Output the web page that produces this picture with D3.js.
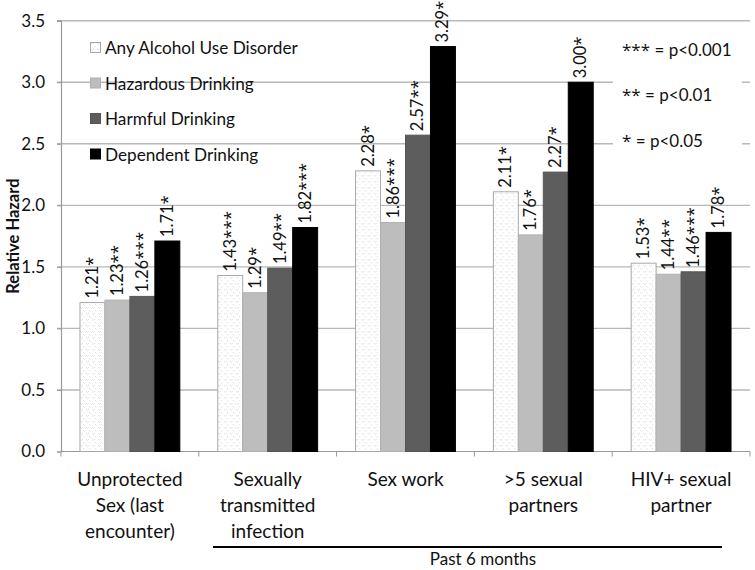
<!DOCTYPE html>
<html><head><meta charset="utf-8">
<script src="https://cdn.jsdelivr.net/npm/d3@7"></script>
<style>body{margin:0;background:#fff;} svg{display:block;font-family:Lato,"Open Sans",sans-serif;} .st{font-family:"Open Sans",sans-serif;}</style>
</head><body><svg id="c" width="755" height="570"></svg>
<script>
const categories = ["Unprotected Sex (last encounter)", "Sexually transmitted infection", "Sex work", ">5 sexual partners", "HIV+ sexual partner"];
const categoryLines = [["Unprotected","Sex (last","encounter)"],["Sexually","transmitted","infection"],["Sex work"],[">5 sexual","partners"],["HIV+ sexual","partner"]];
const series = ["Any Alcohol Use Disorder","Hazardous Drinking","Harmful Drinking","Dependent Drinking"];
const anyAUD     = [1.21, 1.43, 2.28, 2.11, 1.53];
const hazardous  = [1.23, 1.29, 1.86, 1.76, 1.44];
const harmful    = [1.26, 1.49, 2.57, 2.27, 1.46];
const dependent  = [1.71, 1.82, 3.29, 3.00, 1.78];
const starsAny   = ["*", "***", "*", "*", "*"];
const starsHaz   = ["**", "*", "***", "*", "**"];
const starsHarm  = ["***", "**", "**", "*", "***"];
const starsDep   = ["*", "***", "*", "*", "*"];
const yTicks = [0, 0.5, 1.0, 1.5, 2.0, 2.5, 3.0, 3.5];
const pStars = ["***", "**", "*"];
const pNotes = [" = p<0.001", " = p<0.01", " = p<0.05"];

const values = [anyAUD, hazardous, harmful, dependent];
const stars = [starsAny, starsHaz, starsHarm, starsDep];
const fills = ["url(#dots)", "#bdbdbd", "#5d5d5d", "#000"];
const strokes = ["#a8a8a8", "#b0b0b0", "#555", "#000"];

const svg = d3.select("#c");
const defs = svg.append("defs");
const pat = defs.append("pattern").attr("id","dots").attr("patternUnits","userSpaceOnUse").attr("width",6).attr("height",6);
pat.append("rect").attr("width",6).attr("height",6).attr("fill","#fff");
pat.append("path").attr("d","M1,1 l1.5,1.5 l1.5,-1.5 M4,4 l1.5,1.5").attr("stroke","#d8d8d8").attr("stroke-width",0.8).attr("fill","none");

const mLeft = 61, mRight = 750, mTop = 20.7, mBottom = 451.5;
const y = d3.scaleLinear().domain([0, 3.5]).range([mBottom, mTop]);
const x0 = d3.scaleBand().domain(categories).range([mLeft, mRight]).padding(0);
const x1 = d3.scaleBand().domain(series).range([0, x0.bandwidth()]).paddingInner(0).paddingOuter(0.76);

// gridlines
svg.append("g").selectAll("line").data(yTicks.filter(d => d > 0)).join("line")
  .attr("x1", mLeft - 4).attr("x2", mRight).attr("y1", d => y(d)).attr("y2", d => y(d))
  .attr("stroke", "#b8b8b8").attr("stroke-width", 1.4);

// y axis
const yAxis = d3.axisLeft(y).tickValues(yTicks).tickFormat(d3.format(".1f")).tickSize(4).tickPadding(12);
const ya = svg.append("g").attr("transform", `translate(${mLeft},0)`).call(yAxis);
ya.select(".domain").attr("stroke", "#999").attr("stroke-width", 1.2);
ya.selectAll(".tick line").attr("stroke", "#999");
ya.selectAll("text").attr("font-size", 17).attr("fill", "#111").attr("font-family", "Lato, sans-serif");

// x axis
const xa = svg.append("g").attr("transform", `translate(0,${mBottom})`);
xa.append("line").attr("x1", mLeft).attr("x2", mRight).attr("stroke", "#999").attr("stroke-width", 1.2);
const bounds = categories.map((c, i) => x0(c)).concat([mRight]);
xa.selectAll("line.t").data(bounds).join("line").attr("class","t")
  .attr("x1", d => d).attr("x2", d => d).attr("y1", 0).attr("y2", 5).attr("stroke", "#999");

// bars
const groups = svg.append("g").selectAll("g").data(categories).join("g")
  .attr("transform", c => `translate(${x0(c)},0)`);
series.forEach((s, si) => {
  groups.append("rect")
    .attr("x", x1(s)).attr("width", x1.bandwidth())
    .attr("y", (c, ci) => y(values[si][ci]))
    .attr("height", (c, ci) => y(0) - y(values[si][ci]))
    .attr("fill", fills[si]).attr("stroke", strokes[si]).attr("stroke-width", 1);
  const t = groups.append("text")
    .attr("transform", (c, ci) => `translate(${x1(s) + x1.bandwidth()/2 + 5.5},${y(values[si][ci]) - 4}) rotate(-90)`)
    .attr("font-size", 16.5).attr("fill", "#111");
  t.append("tspan").text((c, ci) => values[si][ci].toFixed(2));
  t.append("tspan").attr("class", "st").attr("font-size", 17).text((c, ci) => stars[si][ci]);
});

// legend
const lg = svg.append("g").attr("transform", "translate(90,48)");
series.forEach((s, i) => {
  const row = lg.append("g").attr("transform", `translate(0,${i * 35.5})`);
  row.append("rect").attr("x", 0.5).attr("y", -5.5).attr("width", 10).attr("height", 10)
    .attr("fill", fills[i]).attr("stroke", strokes[i]);
  row.append("text").attr("x", 15).attr("y", 0).attr("dy", "0.35em").attr("font-size", 17.2).attr("fill", "#111").text(s);
});

// p-value notes box
svg.append("rect").attr("x", 613).attr("y", 27).attr("width", 129).attr("height", 140).attr("fill", "#fff");
const pn = svg.append("g").selectAll("text").data(pNotes).join("text")
  .attr("x", 622).attr("y", (d, i) => 50 + i * 45.5).attr("dy", "0.35em")
  .attr("font-size", 17).attr("fill", "#111");
pn.append("tspan").attr("class", "st").text((d, i) => pStars[i]);
pn.append("tspan").text(d => d);

// category labels
const cl = svg.append("g").selectAll("text").data(categories).join("text")
  .attr("x", c => x0(c) + x0.bandwidth()/2).attr("y", 486)
  .attr("text-anchor", "middle").attr("font-size", 19).attr("fill", "#111");
cl.selectAll("tspan").data((c, i) => categoryLines[i]).join("tspan")
  .attr("x", function() { return this.parentNode.getAttribute("x"); })
  .attr("dy", (d, i) => i === 0 ? 0 : 26).text(d => d);

// y title
svg.append("text").attr("transform", `translate(19,${(mTop + mBottom)/2}) rotate(-90)`)
  .attr("text-anchor", "middle").attr("font-weight", "bold").attr("font-size", 16.5).attr("fill", "#111")
  .text("Relative Hazard");

// Past 6 months bracket
svg.append("line").attr("x1", 213).attr("x2", 722).attr("y1", 547).attr("y2", 547).attr("stroke", "#000").attr("stroke-width", 2.2);
svg.append("text").attr("x", 483).attr("y", 565).attr("text-anchor", "middle").attr("font-size", 17).attr("fill", "#111").text("Past 6 months");
</script></body></html>
